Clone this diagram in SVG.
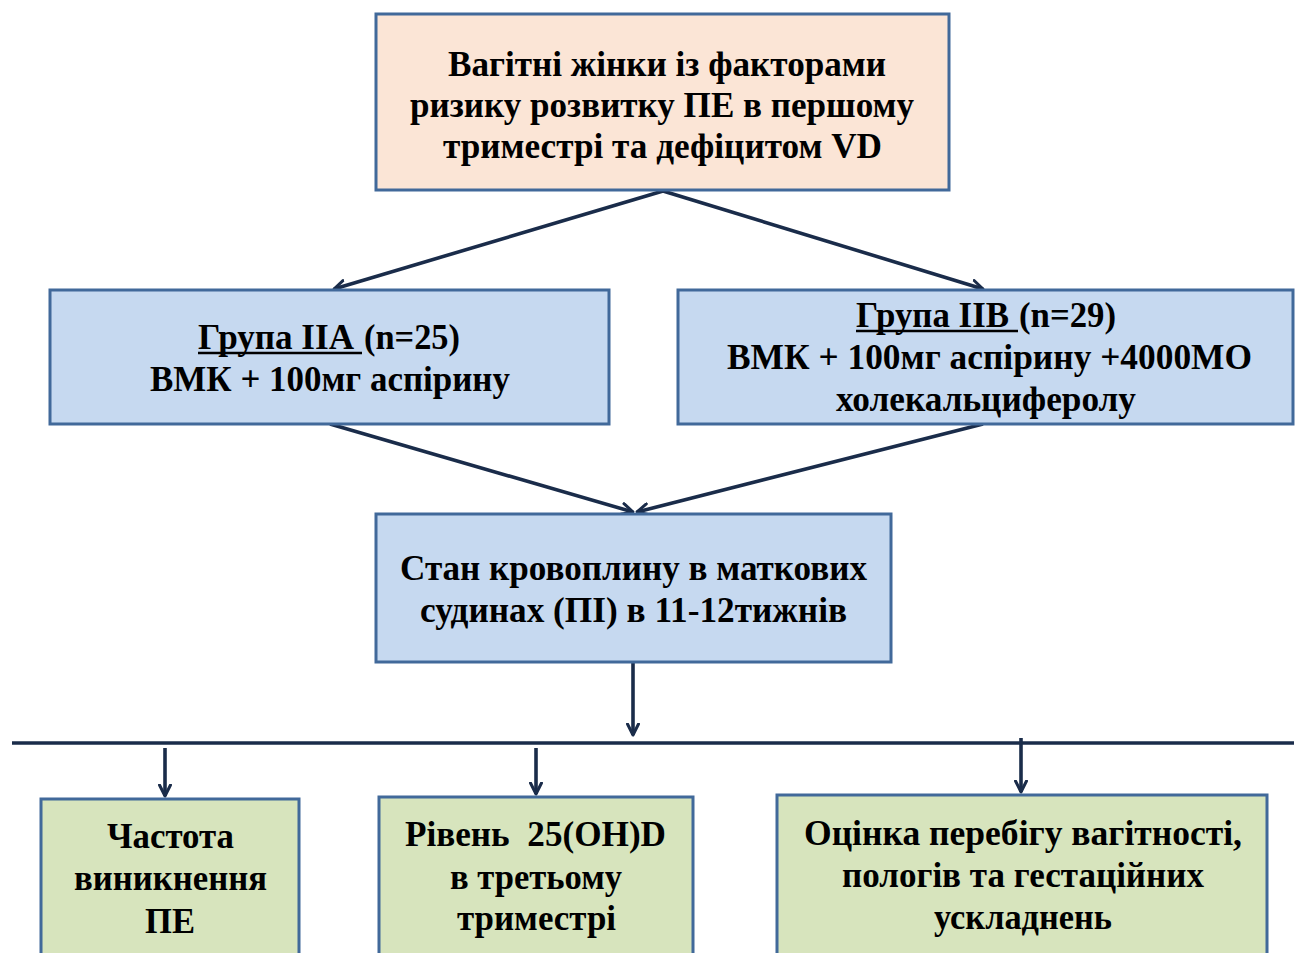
<svg xmlns="http://www.w3.org/2000/svg" width="1301" height="953" viewBox="0 0 1301 953">
<defs>
<marker id="arr" viewBox="0 0 14 14" refX="12.5" refY="7" markerWidth="14" markerHeight="14" markerUnits="userSpaceOnUse" orient="auto">
<path d="M1.5,1.5 L12.5,7 L1.5,12.5" fill="none" stroke="#1a2c4a" stroke-width="3" stroke-linecap="round" stroke-linejoin="round"/>
</marker>
</defs>
<style>
.box{stroke:#41699a;stroke-width:3}
.peach{fill:#fbe5d6}
.blue{fill:#c6d9f0}
.green{fill:#d7e4bd}
text{font-family:"Liberation Serif","Times New Roman",serif;font-weight:bold;font-size:36px;fill:#000}
.ul{stroke:#000;stroke-width:2.5}
.c{stroke:#1a2c4a;stroke-width:3.6;fill:none}
</style>
<rect width="1301" height="953" fill="#ffffff"/>
<g id="connectors">
<line class="c" x1="663" y1="191" x2="334" y2="289" marker-end="url(#arr)"/>
<line class="c" x1="663" y1="191" x2="983" y2="289" marker-end="url(#arr)"/>
<line class="c" x1="330" y1="424" x2="633" y2="512" marker-end="url(#arr)"/>
<line class="c" x1="983" y1="424" x2="637" y2="512" marker-end="url(#arr)"/>
<line class="c" x1="633" y1="663" x2="633" y2="735" marker-end="url(#arr)"/>
<line class="c" x1="12" y1="743" x2="1294" y2="743" stroke-width="4"/>
<line class="c" x1="165" y1="748" x2="165" y2="796" marker-end="url(#arr)"/>
<line class="c" x1="536" y1="748" x2="536" y2="794" marker-end="url(#arr)"/>
<line class="c" x1="1021" y1="738" x2="1021" y2="792" marker-end="url(#arr)"/>
</g>
<g id="node-top">
<rect class="box peach" x="376" y="14" width="573" height="176"/>
<text x="448" y="76" textLength="438" lengthAdjust="spacingAndGlyphs">Вагітні жінки із факторами</text>
<text x="410" y="117" textLength="504" lengthAdjust="spacingAndGlyphs">ризику розвитку ПЕ в першому</text>
<text x="443" y="158" textLength="439" lengthAdjust="spacingAndGlyphs">триместрі та дефіцитом VD</text>
</g>
<g id="node-IIA">
<rect class="box blue" x="50" y="290" width="559" height="134"/>
<text x="198" y="349" textLength="156" lengthAdjust="spacingAndGlyphs">Група ІІА</text>
<line class="ul" x1="198" y1="353" x2="362" y2="353"/>
<text x="364" y="349" textLength="96" lengthAdjust="spacingAndGlyphs">(n=25)</text>
<text x="150" y="391" textLength="360" lengthAdjust="spacingAndGlyphs">ВМК + 100мг аспірину</text>
</g>
<g id="node-IIB">
<rect class="box blue" x="678" y="290" width="615" height="134"/>
<text x="856" y="327" textLength="153" lengthAdjust="spacingAndGlyphs">Група ІІВ</text>
<line class="ul" x1="856" y1="331" x2="1018" y2="331"/>
<text x="1019" y="327" textLength="97" lengthAdjust="spacingAndGlyphs">(n=29)</text>
<text x="727" y="369" textLength="525" lengthAdjust="spacingAndGlyphs">ВМК + 100мг аспірину +4000МО</text>
<text x="836" y="411" textLength="300" lengthAdjust="spacingAndGlyphs">холекальциферолу</text>
</g>
<g id="node-mid">
<rect class="box blue" x="376" y="514" width="515" height="148"/>
<text x="400" y="580" textLength="467" lengthAdjust="spacingAndGlyphs">Стан кровоплину в маткових</text>
<text x="420" y="622" textLength="427" lengthAdjust="spacingAndGlyphs">судинах (ПІ) в 11-12тижнів</text>
</g>
<g id="node-b1">
<rect class="box green" x="41" y="799" width="258" height="165"/>
<text x="107" y="848" textLength="127" lengthAdjust="spacingAndGlyphs">Частота</text>
<text x="74" y="890" textLength="193" lengthAdjust="spacingAndGlyphs">виникнення</text>
<text x="145" y="933" textLength="50" lengthAdjust="spacingAndGlyphs">ПЕ</text>
</g>
<g id="node-b2">
<rect class="box green" x="379" y="797" width="314" height="165"/>
<text x="405" y="846" textLength="261" lengthAdjust="spacingAndGlyphs" xml:space="preserve">Рівень  25(OH)D</text>
<text x="450" y="889" textLength="172" lengthAdjust="spacingAndGlyphs">в третьому</text>
<text x="457" y="930" textLength="159" lengthAdjust="spacingAndGlyphs">триместрі</text>
</g>
<g id="node-b3">
<rect class="box green" x="777" y="795" width="490" height="165"/>
<text x="804" y="845" textLength="438" lengthAdjust="spacingAndGlyphs">Оцінка перебігу вагітності,</text>
<text x="842" y="887" textLength="362" lengthAdjust="spacingAndGlyphs">пологів та гестаційних</text>
<text x="934" y="929" textLength="178" lengthAdjust="spacingAndGlyphs">ускладнень</text>
</g>
</svg>
